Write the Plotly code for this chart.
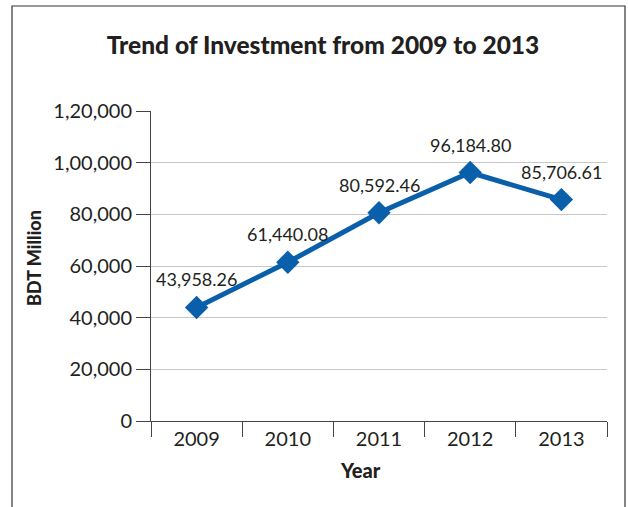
import plotly.graph_objects as go

years = ["2009", "2010", "2011", "2012", "2013"]
investment = [43958.26, 61440.08, 80592.46, 96184.80, 85706.61]
value_labels = ["43,958.26", "61,440.08", "80,592.46", "96,184.80", "85,706.61"]
y_tickvals = [0, 20000, 40000, 60000, 80000, 100000, 120000]
y_ticktext = ["0", "20,000", "40,000", "60,000", "80,000", "1,00,000", "1,20,000"]

FONT = "Lato"
BLUE = "#0A5FAB"
TXT = "#231f20"

fig = go.Figure()
fig.add_trace(go.Scatter(
    x=years, y=investment, mode="lines+markers",
    line=dict(color=BLUE, width=5),
    marker=dict(symbol="diamond", size=18, color=BLUE),
    cliponaxis=False, showlegend=False,
))

L, R, T, B = 151, 21, 111, 86
W, H = 628, 507
pw, ph = W - L - R, H - T - B

def px_x(x):
    return (x - L) / pw

def px_y(y):
    return (H - B - y) / ph

# category axis: annotations are placed by category index
value_annotations = [
    dict(text=lab, x=i, y=val, xref="x", yref="y", showarrow=False,
         xanchor="center", yanchor="middle", yshift=28,
         font=dict(family=FONT, size=18, color=TXT))
    for i, (val, lab) in enumerate(zip(investment, value_labels))
]

fig.update_layout(
    width=W, height=H,
    margin=dict(l=L, r=R, t=T, b=B, pad=0),
    paper_bgcolor="white", plot_bgcolor="white",
    font=dict(family=FONT, color=TXT),
    title=dict(text="Trend of Investment from 2009 to 2013",
               x=px_x(323), xref="paper", xanchor="center",
               y=1 - 45 / H, yref="container", yanchor="middle",
               font=dict(family=FONT, size=24.5, color=TXT, weight=900)),
    xaxis=dict(type="category", range=[-0.5, 4.5], tickson="boundaries",
               ticks="outside", ticklen=15, tickcolor="#444", tickwidth=1,
               showline=True, linecolor="#444", linewidth=1,
               showgrid=False, zeroline=False,
               tickfont=dict(family=FONT, size=20, color=TXT)),
    yaxis=dict(range=[0, 120000], tickvals=y_tickvals, ticktext=y_ticktext,
               ticks="outside", ticklen=14, tickcolor="#444", tickwidth=1,
               showline=True, linecolor="#444", linewidth=1,
               showgrid=True, gridcolor="#c8c8c8", gridwidth=1,
               zeroline=False,
               tickfont=dict(family=FONT, size=20, color=TXT)),
    annotations=value_annotations + [
        dict(text="Year", xref="paper", yref="paper",
             x=px_x(360), y=px_y(470), xanchor="center", yanchor="middle",
             showarrow=False, font=dict(family=FONT, size=20, color=TXT, weight=900)),
        dict(text="BDT Million", xref="paper", yref="paper",
             x=px_x(34), y=px_y(258), xanchor="center", yanchor="middle",
             textangle=-90, showarrow=False,
             font=dict(family=FONT, size=18, color=TXT, weight=900)),
    ],
    shapes=[dict(type="rect", xref="paper", yref="paper",
                 x0=px_x(12), x1=px_x(625), y0=px_y(520), y1=px_y(6),
                 line=dict(color="#333", width=1.2), fillcolor="rgba(0,0,0,0)",
                 layer="below")],
)

fig.write_html("out.html")
